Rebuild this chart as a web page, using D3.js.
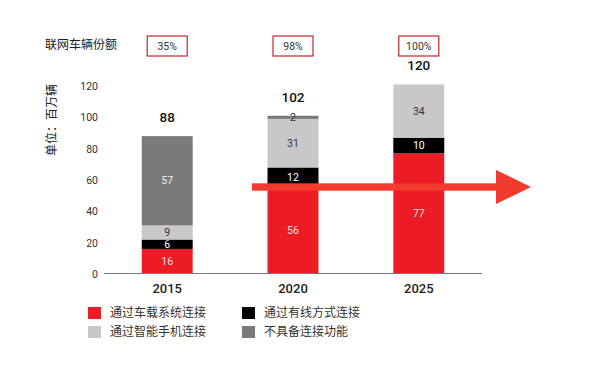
<!DOCTYPE html>
<html>
<head>
<meta charset="utf-8">
<script src="https://cdn.jsdelivr.net/npm/d3@7"></script>
<style>
  body { margin: 0; background: #fff; }
  svg { display: block; font-family: Roboto, "Noto Sans CJK SC", sans-serif; }
</style>
</head>
<body>
<div class="canvas"></div>
<script>
// data
const years = ['2015', '2020', '2025'];
const series = ['通过车载系统连接', '通过有线方式连接', '通过智能手机连接', '不具备连接功能'];
const embedded = [16, 56, 77];
const tethered = [6, 12, 10];
const smartphone = [9, 31, 34];
const unconnected = [57, 2, 0];
const totals = [88, 102, 120];
const shares = ['35%', '98%', '100%'];
const yTicks = [0, 20, 40, 60, 80, 100, 120];

const colors = ['#ed1c24', '#000000', '#c8c8c8', '#7a7a7a'];
const labelColors = ['#fbe3e3', '#ffffff', '#333333', '#eeeeee'];

const dims = { width: 600, height: 368 };

const svg = d3.select('.canvas')
    .append('svg')
    .attr('width', dims.width)
    .attr('height', dims.height);

const x = d3.scaleBand()
    .domain(years)
    .range([104, 482])
    .paddingInner(0.595)
    .paddingOuter(0.3);

const y = d3.scaleLinear()
    .domain([0, 120])
    .range([274, 86]);

// stacked data
const rows = years.map((year, i) => ({
    year,
    [series[0]]: embedded[i],
    [series[1]]: tethered[i],
    [series[2]]: smartphone[i],
    [series[3]]: unconnected[i]
}));
const stacked = d3.stack().keys(series)(rows);

// title
svg.append('text')
    .attr('x', 45)
    .attr('y', 49)
    .attr('font-size', 12)
    .attr('fill', '#222')
    .text('联网车辆份额');

// share boxes
const boxes = svg.append('g').selectAll('g')
    .data(years)
    .enter().append('g')
    .attr('transform', d => `translate(${x(d) + x.bandwidth() / 2}, 46)`);

boxes.append('rect')
    .attr('x', -20).attr('y', -10)
    .attr('width', 40).attr('height', 20)
    .attr('fill', 'none')
    .attr('stroke', '#c8232c')
    .attr('stroke-width', 1.2);

boxes.append('text')
    .attr('text-anchor', 'middle')
    .attr('dy', '0.35em')
    .attr('font-size', 10.5)
    .attr('fill', '#333')
    .text((d, i) => shares[i]);

// y axis labels (no line, no ticks)
const yAxis = svg.append('g')
    .attr('transform', 'translate(100, 0)')
    .call(d3.axisLeft(y).tickValues(yTicks).tickSize(0).tickPadding(2));
yAxis.select('.domain').remove();
yAxis.selectAll('text')
    .attr('font-size', 10.5)
    .attr('font-family', 'Roboto, sans-serif')
    .attr('fill', '#333');

svg.append('text')
    .attr('transform', 'translate(56, 120) rotate(-90)')
    .attr('text-anchor', 'middle')
    .attr('font-size', 12)
    .attr('fill', '#222')
    .text('单位：百万辆');

// bars
const layers = svg.append('g').selectAll('g')
    .data(stacked)
    .enter().append('g')
    .attr('fill', (d, i) => colors[i]);

layers.selectAll('rect')
    .data(d => d)
    .enter().append('rect')
    .attr('x', d => x(d.data.year))
    .attr('y', d => y(d[1]))
    .attr('width', x.bandwidth())
    .attr('height', d => y(d[0]) - y(d[1]));

// segment labels (thin segments get dark text)
stacked.forEach((layer, li) => {
    svg.append('g').selectAll('text')
        .data(layer.filter(d => d[1] - d[0] > 0))
        .enter().append('text')
        .attr('x', d => x(d.data.year) + x.bandwidth() / 2)
        .attr('y', d => y((d[0] + d[1]) / 2))
        .attr('dy', '0.35em')
        .attr('text-anchor', 'middle')
        .attr('font-size', 10.5)
        .attr('fill', d => (y(d[0]) - y(d[1]) < 8 ? '#333' : labelColors[li]))
        .text(d => d[1] - d[0]);
});

// totals
svg.append('g').selectAll('text')
    .data(years)
    .enter().append('text')
    .attr('x', d => x(d) + x.bandwidth() / 2)
    .attr('y', (d, i) => y(stacked[3][i][1]) - 14)
    .attr('text-anchor', 'middle')
    .attr('font-size', 13.5)
    .attr('font-weight', 500)
    .attr('fill', '#111')
    .text((d, i) => totals[i]);

// x axis
svg.append('line')
    .attr('x1', 104).attr('x2', 482)
    .attr('y1', y(0) - 0.5).attr('y2', y(0) - 0.5)
    .attr('stroke', '#777')
    .attr('stroke-width', 1);

svg.append('g').selectAll('text')
    .data(years)
    .enter().append('text')
    .attr('x', d => x(d) + x.bandwidth() / 2)
    .attr('y', 293)
    .attr('text-anchor', 'middle')
    .attr('font-size', 13)
    .attr('font-weight', 500)
    .attr('fill', '#222')
    .text(d => d);

// growth arrow
const arrowY = 187;
svg.append('rect')
    .attr('x', 252).attr('y', arrowY - 3.7)
    .attr('width', 250).attr('height', 7.4)
    .attr('fill', '#f23a2f');
svg.append('path')
    .attr('d', `M496,${arrowY - 17} L531,${arrowY} L496,${arrowY + 17} Z`)
    .attr('fill', '#f23a2f');

// legend
const legendPos = [[88, 313], [242, 313], [88, 332], [242, 332]];
const legendOrder = [0, 1, 2, 3];
const legend = svg.append('g').selectAll('g')
    .data(legendOrder)
    .enter().append('g')
    .attr('transform', (d, i) => `translate(${legendPos[i][0]}, ${legendPos[i][1]})`);

legend.append('rect')
    .attr('x', 0).attr('y', -6)
    .attr('width', 13).attr('height', 12)
    .attr('fill', d => colors[d]);

legend.append('text')
    .attr('x', 22)
    .attr('dy', '0.35em')
    .attr('font-size', 12)
    .attr('fill', '#333')
    .text(d => series[d]);
</script>
</body>
</html>
